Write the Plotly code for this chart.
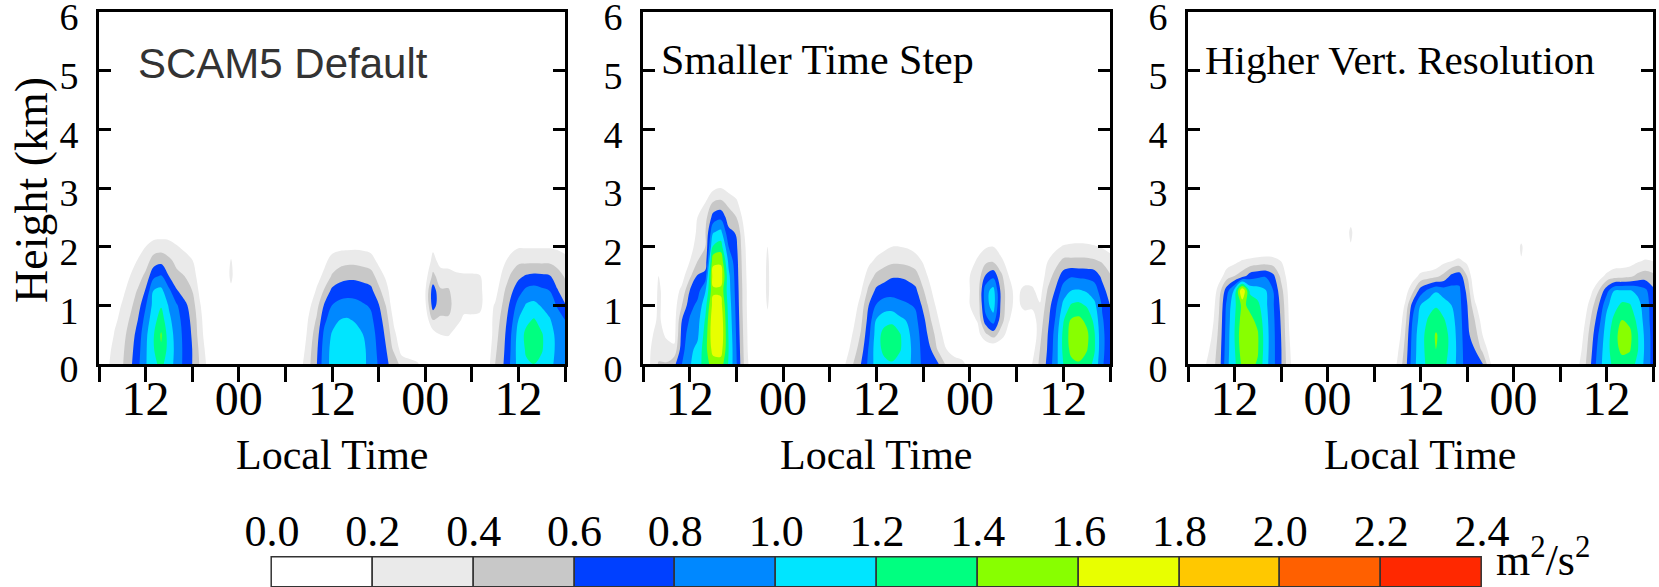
import plotly.graph_objects as go

W, H = 1659, 587

# ---------------- data ----------------
HEIGHTS = [0, 0.25, 0.5, 0.75, 1.0, 1.25, 1.5, 1.75, 2.0, 2.25, 2.5, 2.75, 3.0, 3.25]

# each profile = values (m2/s2) at HEIGHTS (bottom->top), missing tail = 0
P1_TIMES = [6, 7, 8, 9, 10, 11, 12, 13, 14, 15, 16, 17, 18, 19, 20, 22, 23, 24,
            31, 32, 33, 34, 35, 36, 37, 38, 39, 40, 41, 42, 43, 44, 45, 46, 47, 48,
            49, 50, 51, 52, 53, 54, 55, 56, 57, 58, 59, 60, 61, 62, 63, 64, 65, 66]
P1_PROFILES = [
    [0], [0.15, 0.1], [0.3, 0.28, 0.22, 0.15, 0.1],
    [0.38, 0.36, 0.33, 0.28, 0.22, 0.15, 0.05],
    [0.55, 0.52, 0.48, 0.42, 0.35, 0.28, 0.2, 0.1],
    [0.75, 0.72, 0.68, 0.6, 0.5, 0.42, 0.3, 0.22, 0.1],
    [0.98, 0.97, 0.95, 0.88, 0.78, 0.62, 0.45, 0.3, 0.2, 0.1],
    [1.15, 1.18, 1.18, 1.12, 1.06, 1.0, 0.75, 0.5, 0.28, 0.1],
    [1.25, 1.38, 1.42, 1.3, 1.18, 1.05, 0.82, 0.55, 0.3, 0.1],
    [1.1, 1.12, 1.1, 1.05, 0.98, 0.85, 0.6, 0.45, 0.28, 0.1],
    [0.92, 0.93, 0.92, 0.88, 0.82, 0.62, 0.45, 0.35, 0.22, 0.05],
    [0.75, 0.75, 0.74, 0.72, 0.66, 0.5, 0.4, 0.3, 0.15],
    [0.6, 0.6, 0.58, 0.55, 0.5, 0.4, 0.32, 0.22, 0.08],
    [0.38, 0.35, 0.3, 0.28, 0.22, 0.15, 0.08],
    [0.15, 0.1, 0.05],
    [0], [0, 0, 0, 0, 0, 0.15, 0.25, 0.22, 0.1], [0],
    [0], [0.15, 0.08], [0.35, 0.32, 0.28, 0.22, 0.15, 0.05],
    [0.58, 0.55, 0.5, 0.42, 0.32, 0.22, 0.12],
    [0.92, 0.9, 0.85, 0.75, 0.62, 0.42, 0.25, 0.15],
    [1.05, 1.05, 1.02, 0.92, 0.8, 0.65, 0.42, 0.28, 0.12],
    [1.1, 1.12, 1.1, 1.0, 0.86, 0.7, 0.52, 0.32, 0.15],
    [1.12, 1.15, 1.12, 1.02, 0.88, 0.72, 0.55, 0.35, 0.15],
    [1.1, 1.12, 1.08, 0.98, 0.86, 0.72, 0.55, 0.35, 0.16],
    [1.05, 1.05, 1.0, 0.92, 0.82, 0.7, 0.52, 0.33, 0.15],
    [0.92, 0.9, 0.88, 0.84, 0.78, 0.66, 0.48, 0.3, 0.12],
    [0.78, 0.76, 0.74, 0.7, 0.62, 0.45, 0.32, 0.15],
    [0.62, 0.6, 0.55, 0.48, 0.38, 0.28, 0.15],
    [0.55, 0.35, 0.25, 0.15, 0.05],
    [0.3, 0.12, 0.05], [0.25, 0.1], [0.22, 0.05],
    [0.1, 0, 0, 0.05, 0.15, 0.18, 0.1],
    [0.05, 0, 0.1, 0.4, 0.7, 0.72, 0.45, 0.28, 0.15],
    [0, 0, 0.2, 0.38, 0.45, 0.42, 0.3, 0.12],
    [0, 0, 0.22, 0.38, 0.45, 0.42, 0.3, 0.1],
    [0, 0, 0.1, 0.28, 0.32, 0.3, 0.25, 0.05],
    [0, 0, 0, 0.15, 0.28, 0.28, 0.24],
    [0, 0, 0, 0.15, 0.28, 0.28, 0.24],
    [0, 0, 0, 0.15, 0.25, 0.25, 0.22],
    [0.1, 0.05, 0, 0.05, 0.1, 0.1, 0.05],
    [0.4, 0.36, 0.32, 0.28, 0.22, 0.12, 0.05],
    [0.58, 0.55, 0.52, 0.48, 0.42, 0.35, 0.25, 0.15],
    [0.82, 0.8, 0.78, 0.72, 0.65, 0.55, 0.42, 0.28, 0.12],
    [1.08, 1.1, 1.08, 1.0, 0.88, 0.72, 0.55, 0.36, 0.18],
    [1.18, 1.22, 1.25, 1.15, 1.02, 0.85, 0.62, 0.36, 0.18],
    [1.2, 1.3, 1.32, 1.22, 1.05, 0.88, 0.65, 0.36, 0.18],
    [1.15, 1.22, 1.22, 1.12, 0.98, 0.84, 0.64, 0.36, 0.18],
    [1.05, 1.08, 1.08, 1.02, 0.92, 0.8, 0.62, 0.36, 0.18],
    [0.95, 0.96, 0.95, 0.9, 0.78, 0.62, 0.48, 0.33, 0.16],
    [0.86, 0.86, 0.84, 0.8, 0.62, 0.48, 0.38, 0.28, 0.12],
]

P2_TIMES = [6, 7, 8, 9, 10, 11, 12, 13, 14, 15, 16, 17, 18, 19, 20, 21, 22, 23,
            31, 32, 33, 34, 35, 36, 37, 38, 39, 40, 41, 42, 43, 44, 45, 46, 47, 48,
            49, 50, 51, 52, 53, 54, 55, 56, 57, 58, 59, 60, 61, 62, 63, 64, 65, 66]
P2_PROFILES = [
    [0], [0.22, 0.2, 0.18, 0.15, 0.12, 0.1, 0.05],
    [0.42, 0.3, 0.25, 0.22, 0.22, 0.22, 0.2, 0.05],
    [0.42, 0.25, 0.18, 0.15, 0.15, 0.15, 0.12],
    [0.55, 0.25, 0.12, 0.1, 0.1, 0.1, 0.05],
    [0.8, 0.72, 0.68, 0.6, 0.4, 0.25, 0.12, 0.05],
    [0.98, 0.95, 0.9, 0.82, 0.72, 0.6, 0.35, 0.2, 0.08],
    [1.1, 1.05, 0.96, 0.92, 0.85, 0.72, 0.62, 0.4, 0.32, 0.25, 0.2, 0.1],
    [1.3, 1.32, 1.28, 1.22, 1.12, 0.98, 0.7, 0.45, 0.4, 0.38, 0.32, 0.2, 0.05],
    [1.5, 1.68, 1.76, 1.75, 1.68, 1.56, 1.7, 1.55, 1.22, 0.98, 0.68, 0.42, 0.15],
    [1.5, 1.7, 1.78, 1.76, 1.68, 1.55, 1.72, 1.56, 1.3, 1.05, 0.75, 0.45, 0.2],
    [1.18, 1.2, 1.18, 1.15, 1.12, 1.08, 1.05, 0.95, 0.8, 0.65, 0.5, 0.35, 0.12],
    [0.82, 0.8, 0.78, 0.76, 0.74, 0.72, 0.7, 0.68, 0.64, 0.58, 0.4, 0.25, 0.05],
    [0.38, 0.36, 0.34, 0.32, 0.3, 0.3, 0.28, 0.26, 0.24, 0.2, 0.12],
    [0.05], [0], [0, 0, 0, 0.15, 0.22, 0.25, 0.25, 0.24, 0.2], [0],
    [0], [0.2, 0.1, 0.05], [0.4, 0.3, 0.22, 0.15, 0.08],
    [0.6, 0.5, 0.42, 0.35, 0.28, 0.18, 0.08],
    [0.85, 0.82, 0.75, 0.68, 0.6, 0.45, 0.3, 0.15],
    [1.1, 1.12, 1.1, 1.02, 0.82, 0.65, 0.45, 0.25, 0.1],
    [1.15, 1.25, 1.28, 1.12, 0.9, 0.7, 0.52, 0.32, 0.15],
    [1.18, 1.3, 1.32, 1.15, 0.9, 0.72, 0.58, 0.36, 0.2],
    [1.12, 1.22, 1.22, 1.05, 0.85, 0.72, 0.58, 0.36, 0.2],
    [1.05, 1.08, 1.05, 0.98, 0.82, 0.7, 0.55, 0.34, 0.18],
    [0.92, 0.9, 0.88, 0.85, 0.78, 0.65, 0.48, 0.3, 0.12],
    [0.75, 0.74, 0.72, 0.66, 0.55, 0.42, 0.3, 0.18],
    [0.65, 0.6, 0.5, 0.4, 0.3, 0.22, 0.12],
    [0.6, 0.35, 0.28, 0.2, 0.12],
    [0.35, 0.2, 0.1], [0.28, 0.12], [0.25, 0.08],
    [0.12, 0, 0.05, 0.12, 0.2, 0.2, 0.2, 0.15, 0.05],
    [0, 0, 0.12, 0.22, 0.25, 0.28, 0.26, 0.22, 0.15],
    [0, 0, 0.35, 0.72, 0.9, 0.92, 0.62, 0.35, 0.18],
    [0, 0, 0.5, 0.9, 1.1, 1.08, 0.75, 0.38, 0.2],
    [0, 0, 0.3, 0.5, 0.55, 0.55, 0.45, 0.25, 0.1],
    [0, 0, 0.1, 0.22, 0.25, 0.25, 0.2, 0.1],
    [0, 0, 0, 0.05, 0.15, 0.15, 0.05],
    [0, 0, 0, 0.1, 0.25, 0.25, 0.1],
    [0.2, 0.1, 0, 0.1, 0.24, 0.24, 0.1],
    [0.45, 0.4, 0.35, 0.3, 0.22, 0.12, 0.05],
    [0.65, 0.62, 0.6, 0.55, 0.5, 0.42, 0.3, 0.2, 0.08],
    [0.92, 0.9, 0.88, 0.82, 0.75, 0.62, 0.48, 0.32, 0.15],
    [1.2, 1.25, 1.25, 1.18, 1.05, 0.9, 0.7, 0.45, 0.22],
    [1.35, 1.45, 1.48, 1.42, 1.22, 1.0, 0.78, 0.45, 0.25],
    [1.38, 1.5, 1.55, 1.45, 1.25, 1.02, 0.76, 0.45, 0.26],
    [1.3, 1.42, 1.45, 1.35, 1.18, 0.98, 0.75, 0.45, 0.25],
    [1.15, 1.22, 1.22, 1.15, 1.05, 0.9, 0.72, 0.43, 0.22],
    [0.82, 0.84, 0.84, 0.82, 0.78, 0.68, 0.55, 0.38, 0.18],
    [0.7, 0.7, 0.7, 0.68, 0.6, 0.5, 0.42, 0.3, 0.12],
]

P3_TIMES = [6, 7, 8, 9, 10, 11, 12, 13, 14, 15, 16, 17, 18, 19, 20, 26, 27, 28,
            32, 33, 34, 35, 36, 37, 38, 39, 40, 41, 42, 43, 44, 45, 46, 48, 49, 50,
            56, 57, 58, 59, 60, 61, 62, 63, 64, 65, 66]
P3_PROFILES = [
    [0], [0], [0.15, 0.05], [0.3, 0.25, 0.18, 0.1, 0.05],
    [0.5, 0.48, 0.45, 0.42, 0.38, 0.3, 0.1],
    [0.95, 0.92, 0.9, 0.88, 0.85, 0.72, 0.3, 0.1],
    [1.15, 1.18, 1.2, 1.18, 1.15, 1.05, 0.4, 0.15],
    [1.45, 1.52, 1.55, 1.5, 1.45, 1.82, 0.5, 0.22],
    [1.45, 1.5, 1.5, 1.45, 1.35, 1.15, 0.7, 0.25],
    [1.38, 1.42, 1.42, 1.35, 1.25, 1.1, 0.75, 0.28],
    [1.08, 1.1, 1.1, 1.08, 1.05, 1.02, 0.78, 0.3],
    [0.85, 0.85, 0.85, 0.84, 0.82, 0.8, 0.65, 0.28],
    [0.62, 0.62, 0.6, 0.58, 0.55, 0.48, 0.35, 0.2],
    [0.28, 0.25, 0.22, 0.2, 0.18, 0.15, 0.1, 0.05],
    [0], [0], [0, 0, 0, 0, 0, 0, 0, 0, 0.18, 0.25, 0.1], [0],
    [0], [0.22, 0.15, 0.05], [0.5, 0.45, 0.4, 0.32, 0.22, 0.1],
    [0.92, 0.9, 0.88, 0.82, 0.7, 0.35, 0.1],
    [1.12, 1.12, 1.12, 1.08, 1.0, 0.7, 0.25],
    [1.25, 1.28, 1.28, 1.22, 1.12, 0.85, 0.3],
    [1.3, 1.4, 1.42, 1.3, 1.18, 0.98, 0.35, 0.05],
    [1.25, 1.3, 1.3, 1.22, 1.1, 0.9, 0.45, 0.15],
    [1.1, 1.12, 1.12, 1.08, 1.0, 0.88, 0.65, 0.2],
    [0.92, 0.92, 0.9, 0.88, 0.86, 0.84, 0.72, 0.25],
    [0.68, 0.66, 0.65, 0.64, 0.62, 0.55, 0.4, 0.15],
    [0.65, 0.6, 0.5, 0.4, 0.25, 0.1],
    [0.62, 0.35, 0.2, 0.1], [0.22, 0.1], [0],
    [0], [0, 0, 0, 0, 0, 0, 0, 0.18, 0.24, 0.05], [0],
    [0.1], [0.3, 0.25, 0.2, 0.12, 0.05],
    [0.6, 0.55, 0.5, 0.42, 0.3, 0.15],
    [0.92, 0.88, 0.82, 0.72, 0.6, 0.4, 0.1],
    [1.12, 1.12, 1.1, 1.05, 0.95, 0.72, 0.25],
    [1.25, 1.32, 1.32, 1.25, 1.12, 1.0, 0.3, 0.1],
    [1.32, 1.45, 1.5, 1.4, 1.25, 1.02, 0.32, 0.1],
    [1.3, 1.42, 1.45, 1.35, 1.22, 1.02, 0.35, 0.12],
    [1.15, 1.22, 1.22, 1.15, 1.08, 0.95, 0.45, 0.18],
    [0.95, 0.96, 0.95, 0.92, 0.9, 0.85, 0.5, 0.22, 0.05],
    [0.72, 0.72, 0.72, 0.7, 0.7, 0.65, 0.45, 0.2],
]

PANEL_TITLES = ["SCAM5 Default", "Smaller Time Step", "Higher Vert. Resolution"]

LEVELS = [0.0, 0.2, 0.4, 0.6, 0.8, 1.0, 1.2, 1.4, 1.6, 1.8, 2.0, 2.2, 2.4]
LEVEL_COLORS = ["#FFFFFF", "#EAEAEA", "#C8C8C8", "#0040FF", "#0088FF", "#00E5FF",
                "#00FF80", "#88FF00", "#E8FF00", "#FFC800", "#FF6000", "#FF2800"]

X_TICKS = [6, 12, 18, 24, 30, 36, 42, 48, 54, 60, 66]
X_TICK_TEXT = ["", "12", "", "00", "", "12", "", "00", "", "12", ""]
Y_TICKS = [0, 1, 2, 3, 4, 5, 6]

# ---------------- helpers ----------------
def px_x(p):
    return p / W

def px_y(p):
    return 1 - p / H

def build_z(profiles):
    rows = []
    for j in range(len(HEIGHTS)):
        rows.append([prof[j] if j < len(prof) else 0.0 for prof in profiles])
    return rows

n = len(LEVEL_COLORS)
cscale = []
for i, c in enumerate(LEVEL_COLORS):
    cscale.append([i / n, c])
    cscale.append([(i + 1) / n, c])

SERIF = "Liberation Serif, Times New Roman, serif"
SANS = "Liberation Sans, Arial, sans-serif"

fig = go.Figure()

x_domains = [(99, 565), (643, 1110), (1188, 1653)]
panels = [(P1_TIMES, P1_PROFILES), (P2_TIMES, P2_PROFILES), (P3_TIMES, P3_PROFILES)]

for k, (times, profs) in enumerate(panels):
    sfx = "" if k == 0 else str(k + 1)
    fig.add_trace(go.Contour(
        x=times, y=HEIGHTS, z=build_z(profs),
        xaxis="x" + sfx, yaxis="y" + sfx,
        zmin=0, zmax=2.4, colorscale=cscale, showscale=False,
        contours=dict(start=0.2, end=2.2, size=0.2, coloring="fill", showlines=False),
        line=dict(width=0, smoothing=1.0),
        hoverinfo="skip",
    ))
    # empty trace so the label-only overlay axis gets drawn
    fig.add_trace(go.Scatter(x=[], y=[], xaxis="x" + str(k + 5), yaxis="y" + sfx,
                             showlegend=False, hoverinfo="skip"))

# colour bar drawn as bars
mids = [(LEVELS[i] + LEVELS[i + 1]) / 2 for i in range(n)]
fig.add_trace(go.Bar(
    x=mids, y=[1] * n, width=[0.2] * n, xaxis="x4", yaxis="y4",
    marker=dict(color=LEVEL_COLORS, line=dict(color="#333333", width=1.5)),
    hoverinfo="skip", showlegend=False,
))

layout = dict(
    template="none",
    width=W, height=H, margin=dict(l=0, r=0, t=0, b=0, pad=0, autoexpand=False),
    paper_bgcolor="white", plot_bgcolor="white", showlegend=False, bargap=0,
)

for k, (a, b) in enumerate(x_domains):
    sfx = "" if k == 0 else str(k + 1)
    # frame + tick marks
    layout["xaxis" + sfx] = dict(
        domain=[px_x(a), px_x(b)], range=[6, 66], anchor="y" + sfx,
        tickvals=X_TICKS, ticks="outside", ticklen=15,
        tickwidth=2.5, tickcolor="black", showline=True, linewidth=3,
        linecolor="black", mirror=True, showgrid=False, zeroline=False,
        showticklabels=False, automargin=False,
    )
    # tick labels (overlay axis, so labels sit close to the axis like the original)
    layout["xaxis" + str(k + 5)] = dict(
        overlaying="x" + sfx, anchor="y" + sfx, range=[6, 66], side="bottom",
        tickvals=X_TICKS, ticktext=X_TICK_TEXT, ticks="", showline=False,
        showgrid=False, zeroline=False, automargin=False,
        tickfont=dict(family=SERIF, size=48, color="black"), ticklabelstandoff=2,
    )
    layout["yaxis" + sfx] = dict(
        domain=[px_y(364), px_y(12)], range=[0, 6], anchor="x" + sfx,
        tickvals=Y_TICKS, ticks="inside", ticklen=12, tickwidth=2.5,
        tickcolor="black", showline=True, linewidth=3, linecolor="black",
        mirror="ticks", showgrid=False, zeroline=False,
        tickfont=dict(family=SERIF, size=38, color="black"),
        ticklabelstandoff=10, ticklabelshift=5, ticklabeloverflow="allow",
        automargin=False,
    )

layout["xaxis4"] = dict(
    domain=[266.96 / W, (266.96 + 1220.1) / W], range=[-0.01, 2.41], anchor="y4",
    side="top", tickvals=LEVELS, ticktext=["%.1f" % v for v in LEVELS],
    ticks="", showline=False, showgrid=False, zeroline=False,
    tickfont=dict(family=SERIF, size=44, color="black"), automargin=False,
)
layout["yaxis4"] = dict(domain=[0, 0.05366], range=[0, 1.05], anchor="x4", visible=False,
                        automargin=False)

annotations = []
# panel labels
annotations.append(dict(text=PANEL_TITLES[0], x=px_x(136), y=px_y(64), xref="paper", yref="paper",
                        xanchor="left", yanchor="middle", showarrow=False,
                        font=dict(family=SANS, size=42, color="#333333")))
annotations.append(dict(text=PANEL_TITLES[1], x=px_x(659), y=px_y(60), xref="paper", yref="paper",
                        xanchor="left", yanchor="middle", showarrow=False,
                        font=dict(family=SERIF, size=42, color="black")))
annotations.append(dict(text=PANEL_TITLES[2], x=px_x(1203), y=px_y(60), xref="paper", yref="paper",
                        xanchor="left", yanchor="middle", showarrow=False,
                        font=dict(family=SERIF, size=41, color="black")))
# x titles
for (a, b) in x_domains:
    annotations.append(dict(text="Local Time", x=px_x((a + b) / 2), y=px_y(455), xref="paper",
                            yref="paper", xanchor="center", yanchor="middle", showarrow=False,
                            font=dict(family=SERIF, size=42, color="black")))
# y title
annotations.append(dict(text="Height (km)", x=px_x(31), y=px_y(190), xref="paper", yref="paper",
                        xanchor="center", yanchor="middle", textangle=-90, showarrow=False,
                        font=dict(family=SERIF, size=46, color="black")))
# unit
annotations.append(dict(text="m<sup>2</sup>/s<sup>2</sup>", x=px_x(1494), y=px_y(557), xref="paper",
                        yref="paper", xanchor="left", yanchor="middle", showarrow=False,
                        font=dict(family=SERIF, size=44, color="black")))
layout["annotations"] = annotations

fig.update_layout(**layout)
fig.write_html("out.html")
